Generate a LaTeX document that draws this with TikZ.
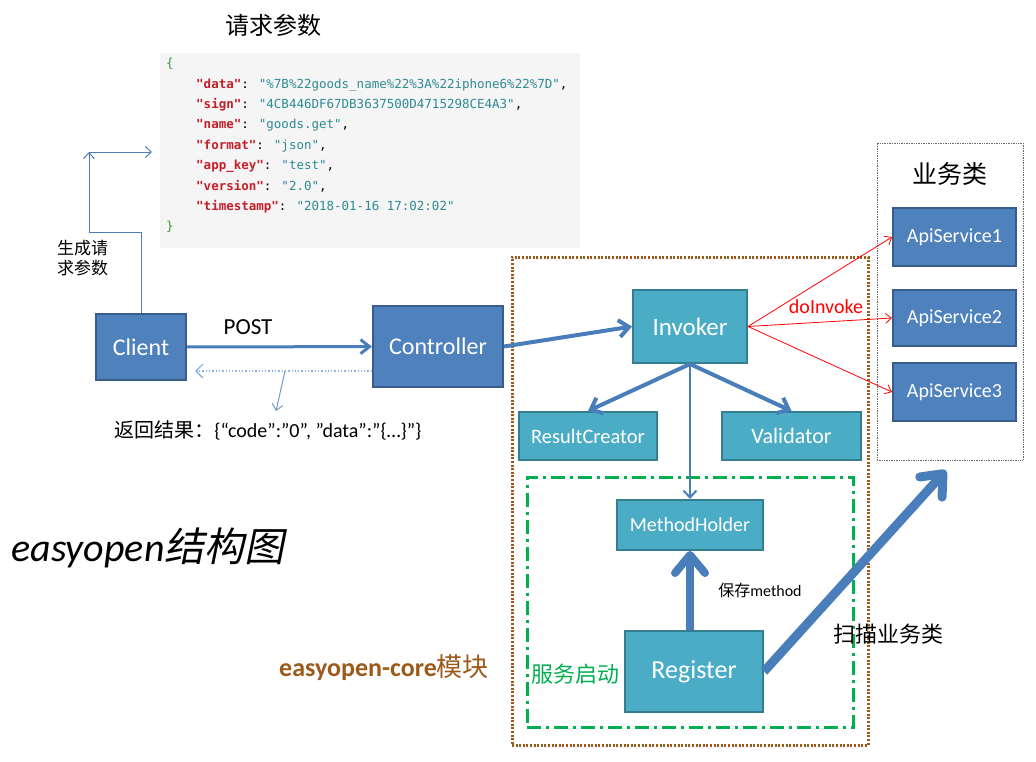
\documentclass[tikz,border=0pt]{standalone}
\usepackage{fontspec}
\setmainfont{Carlito}
\newfontfamily\cjk{Noto Sans CJK SC}
\newfontfamily\cjkslant{Noto Sans CJK SC}[FakeSlant=0.2]
\newfontfamily\jsonfont{DejaVu Sans Mono}
\usepackage{tikz}
\usetikzlibrary{arrows.meta, positioning, calc}

\definecolor{boxblue}{HTML}{4F81BD}
\definecolor{boxblueline}{HTML}{385D8A}
\definecolor{boxteal}{HTML}{4BACC6}
\definecolor{boxtealline}{HTML}{357D91}
\definecolor{flowblue}{HTML}{4A7EBB}
\definecolor{backblue}{HTML}{8EB4E3}
\definecolor{corebrown}{HTML}{9C5A1A}
\definecolor{startgreen}{HTML}{00B050}
\definecolor{jsonkey}{HTML}{C41E28}
\definecolor{jsonval}{HTML}{2E8B94}
\definecolor{jsonbrace}{HTML}{3C9A3C}
\definecolor{jsonbg}{HTML}{F5F5F5}

\newcommand\jkey[1]{\textcolor{jsonkey}{\textbf{"#1"}}}
\newcommand\jval[1]{\textcolor{jsonval}{"#1"}}
\newcommand\fsz[1]{\fontsize{#1}{#1}\selectfont}

\tikzset{
    service/.style={
        rectangle,
        draw=boxblueline,
        line width=2pt,
        fill=boxblue,
        text=white,
        inner sep=0pt
    },
    component/.style={
        rectangle,
        draw=boxtealline,
        line width=2pt,
        fill=boxteal,
        text=white,
        inner sep=0pt
    },
    flow/.style={
        draw=flowblue,
        line width=3pt,
        -{Straight Barb[length=9pt, width=14pt]}
    },
    medflow/.style={
        draw=flowblue,
        line width=4pt,
        -{Straight Barb[length=10pt, width=17pt]}
    },
    bigflow/.style={
        draw=flowblue,
        line width=8pt,
        -{Straight Barb[length=18pt, width=30pt, round]}
    },
    thinflow/.style={
        draw=flowblue,
        line width=1pt,
        -{Straight Barb[length=6pt, width=11pt]}
    },
    callflow/.style={
        draw=red,
        line width=0.8pt,
        -{Straight Barb[length=6pt, width=10pt]}
    },
    returnflow/.style={
        draw=backblue,
        line width=1.3pt,
        dotted,
        -{Straight Barb[length=7pt, width=14pt]}
    }
}

\begin{document}
\begin{tikzpicture}[
    x=1pt, y=-1pt,
    coreframe/.style={draw=corebrown, line width=3pt, dash pattern=on 2pt off 1.6pt},
    startframe/.style={draw=startgreen, line width=3pt, dash pattern=on 14pt off 5pt on 3pt off 5pt},
    bizframe/.style={draw=black!60, line width=0.7pt, densely dotted},
    caption/.style={inner sep=0pt}
]
\useasboundingbox (0,0) rectangle (1036,761);

% request parameters
\node[caption, font=\cjk\fsz{24}] (reqtitle) at (273,25) {请求参数};
\fill[jsonbg] (160,53) rectangle (580,248);
\node[caption, anchor=north west, align=left, font=\jsonfont\fontsize{12.5}{20.4}\selectfont] (json) at (166,58)
{\textcolor{jsonbrace}{\{}\\
\hspace*{30pt}\jkey{data}: \jval{\%7B\%22goods\_name\%22\%3A\%22iphone6\%22\%7D},\\
\hspace*{30pt}\jkey{sign}: \jval{4CB446DF67DB3637500D4715298CE4A3},\\
\hspace*{30pt}\jkey{name}: \jval{goods.get},\\
\hspace*{30pt}\jkey{format}: \jval{json},\\
\hspace*{30pt}\jkey{app\_key}: \jval{test},\\
\hspace*{30pt}\jkey{version}: \jval{2.0},\\
\hspace*{30pt}\jkey{timestamp}: \jval{2018-01-16 17:02:02}\\
\textcolor{jsonbrace}{\}}};

% frames
\node[coreframe, minimum width=356pt, minimum height=488pt] (core) at (690,501) {};
\node[startframe, minimum width=326pt, minimum height=250pt] (start) at (690,602) {};
\node[bizframe, minimum width=146pt, minimum height=317pt] (biz) at (950,301.5) {};
\node[caption, font=\cjk\fsz{25}] (biztitle) at (950,174) {业务类};

% boxes
\node[service, minimum width=90pt, minimum height=66pt, font=\fsz{24}] (client) at (141,347) {Client};
\node[service, minimum width=130pt, minimum height=81pt, font=\fsz{24}] (controller) at (438,346.5) {Controller};
\node[component, minimum width=114pt, minimum height=73pt, font=\fsz{25}] (invoker) at (690,326.5) {Invoker};
\node[component, minimum width=138pt, minimum height=48pt, font=\fsz{20.5}] (resultcreator) at (588,436) {ResultCreator};
\node[component, minimum width=139pt, minimum height=48pt, font=\fsz{22}] (validator) at (791.5,436) {Validator};
\node[component, minimum width=146pt, minimum height=50pt, font=\fsz{20}] (holder) at (690,525) {MethodHolder};
\node[component, minimum width=138pt, minimum height=81pt, font=\fsz{26}] (register) at (694,671.5) {Register};
\node[service, minimum width=123pt, minimum height=58pt, font=\fsz{20}] (api1) at (954.5,237) {ApiService1};
\node[service, minimum width=123pt, minimum height=56pt, font=\fsz{20}] (api2) at (954.5,318) {ApiService2};
\node[service, minimum width=123pt, minimum height=58pt, font=\fsz{20}] (api3) at (954.5,392) {ApiService3};

% client side
\coordinate (genmid) at (89,232);
\coordinate (genend) at (152,152);
\draw[thinflow] (client.north) |- (genmid) |- (genend);
\draw[thinflow] (genmid) -- (genmid |- genend);
\node[caption, anchor=west, align=left, font=\cjk\fontsize{17}{20}\selectfont] (genlabel) at (57,258) {生成请\\求参数};

\node[caption, font=\fsz{23}] (post) at (248,327) {POST};
\draw[flow] (client) -- (controller);

\coordinate (retend) at (195,371);
\coordinate (retfork) at (285,371);
\draw[returnflow] (controller.west |- retend) -- (retend);
\node[caption, font=\fsz{20}] (retlabel) at (268,430) {{\cjk 返回结果：}\{“code”:”0”, ”data”:”\{…\}”\}};
\draw[thinflow, draw=flowblue!80] (retfork) -- ([shift={(8,-9)}]retlabel.north);

% core module
\draw[medflow] (controller.east) -- (invoker.west);
\draw[medflow] (invoker.south) -- (resultcreator.north);
\draw[medflow] (invoker.south) -- (validator.north);
\draw[thinflow, line width=2pt, -{Straight Barb[length=7pt, width=13pt]}] (invoker.south) -- (holder.north);
\draw[bigflow] (register.north -| holder.south) -- (holder.south);
\node[caption, font=\fsz{16}] (savelabel) at (760,590) {{\cjk 保存}method};

\draw[callflow] (invoker.east) -- (api1.west);
\draw[callflow] (invoker.east) -- (api2.west);
\draw[callflow] (invoker.east) -- (api3.west);
\node[caption, text=red, font=\fsz{20}] (invokelabel) at (826,307) {doInvoke};

\draw[bigflow, line width=9pt] (register.east) -- ([shift={(-4,10)}]biz.south);
\node[caption, font=\cjk\fsz{22}] (scanlabel) at (888,634) {扫描业务类};

\node[caption, text=startgreen, font=\cjk\fsz{22}] (startlabel) at (575,674) {服务启动};
\node[caption, text=corebrown, font=\fsz{26}] (corelabel) at (384,668) {{\bfseries easyopen-core}{\cjk 模块}};
\node[caption, font=\fsz{40}] (title) at (148,548) {\itshape easyopen{\cjkslant 结构图}};

\end{tikzpicture}
\end{document}
